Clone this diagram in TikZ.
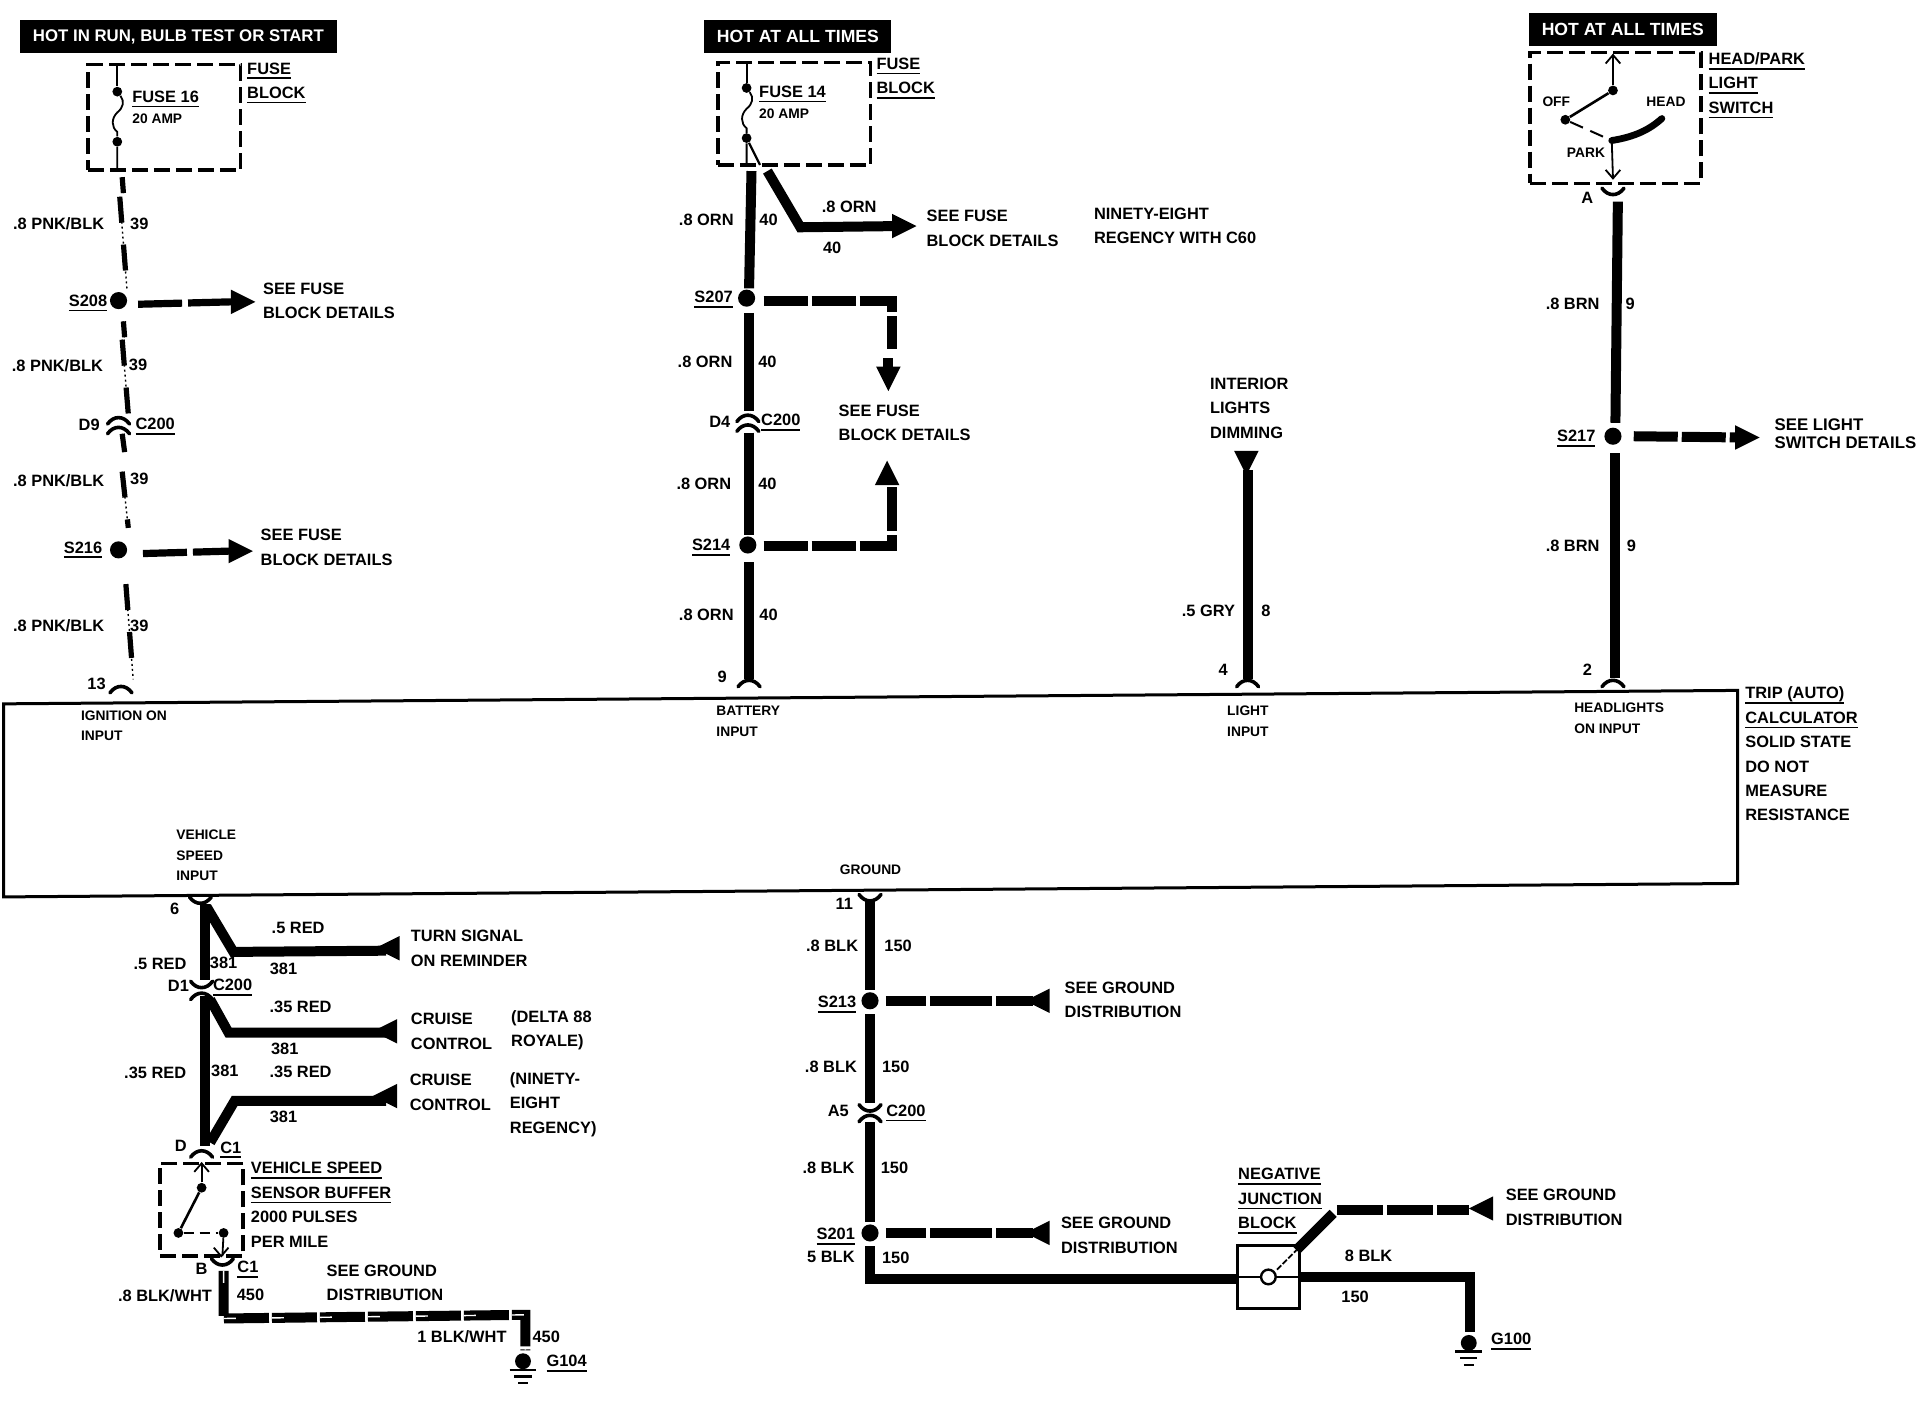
\documentclass[tikz,border=0pt]{standalone}
\usepackage{fontspec}
\setmainfont{Liberation Sans}
\usetikzlibrary{calc}
\def\un{0.61097pt}
\newcommand{\ulb}[1]{\setbox0=\hbox{#1}\leavevmode\rlap{\smash{\vrule width\wd0 height -1.7pt depth 2.5pt}}\box0}
\tikzset{
	lbl/.style={font=\fontsize{8.2}{12.2}\selectfont\bfseries,inner sep=0pt,align=left},
	txt/.style={lbl,anchor=west},
	sml/.style={font=\fontsize{6.9}{10.4}\selectfont\bfseries,inner sep=0pt,align=left,anchor=west},
	banner/.style={fill=black,text=white,font=\fontsize{#1}{10}\selectfont\bfseries,minimum height=27*\un,inner sep=0pt},
	dashbox/.style={draw,line width=1.7pt,dash pattern=on 8pt off 3pt,minimum width=#1*\un,inner sep=0pt},
	splice/.style={circle,fill=black,minimum size=14*\un,inner sep=0pt},
	pinpt/.style={circle,fill=black,minimum size=8*\un,inner sep=0pt},
	wire/.style={line width=5pt,line join=miter},
	wirelt/.style={line width=0.9pt},
	wiredash/.style={line width=5pt,dash pattern=on #1 off 2pt},
	pnkwire/.style={line width=2.6pt,dash pattern=on 13pt off 11pt,
		postaction={draw,line width=.7pt,dash pattern=on 1pt off 1.5pt}},
	blkwht/.style={line width=5pt,dash pattern=on 22.5pt off 1.5pt,
		postaction={draw,white,line width=.7pt,dash pattern=on 6pt off 18pt}},
	arrowhd/.pic={\fill[black] (0,-10) -- (20,0) -- (0,10) -- cycle;},
	capconn/.pic={\draw[line width=1.8pt,line cap=round] (-9,4) .. controls (-4,-3) and (4,-3) .. (9,4);},
	cupconn/.pic={\draw[line width=1.8pt,line cap=round] (-9,-4) .. controls (-4,3) and (4,3) .. (9,-4);},
	chevup/.pic={\draw[line width=.9pt] (-6,7) -- (0,0) -- (6,7);},
	chevdn/.pic={\draw[line width=.9pt] (-6,-7) -- (0,0) -- (6,-7);},
	gndsym/.pic={
		\fill[black] (0,0) circle (6.5);
		\draw[line width=1.2pt] (-11,7) -- (11,7);
		\draw[line width=1.2pt] (-7,12.5) -- (7,12.5);
		\draw[line width=1.2pt] (-4,18) -- (4,18);},
}
\begin{document}
\begin{tikzpicture}[x=\un,y=-\un]
	\useasboundingbox (0,0) rectangle (1568,1152.27);
	\fill[white] (0,0) rectangle (1568,1152.27);

	% Main module box
	\coordinate (tl) at (3,576);
	\coordinate (tr) at (1422,565);
	\coordinate (br) at (1422,723);
	\coordinate (bl) at (3,734);
	\draw[line width=1.5pt] (tl) -- (tr) -- (br) -- (bl) -- cycle;
	\node[sml] (ignlbl) at (66,594) {IGNITION ON\\INPUT};
	\node[sml] (batlbl) at (586,590) {BATTERY\\INPUT};
	\node[sml] (ltlbl) at (1004,590) {LIGHT\\INPUT};
	\node[sml] (hdlbl) at (1288,588) {HEADLIGHTS\\ON INPUT};
	\node[sml] (spdlbl) at (144,700) {VEHICLE\\SPEED\\INPUT};
	\node[sml] (gndlbl) at (687,712) {GROUND};
	\node[txt] (triplbl) at (1428,617) {\ulb{TRIP (AUTO)}\\\ulb{CALCULATOR}\\SOLID STATE\\DO NOT\\MEASURE\\RESISTANCE};

	% Banners
	\node[banner=8.4,minimum width=259*\un] (hotrun) at (146,30) {HOT IN RUN, BULB TEST OR START};
	\node[banner=8.8,minimum width=153*\un] (hotall) at (653,30) {HOT AT ALL TIMES};
	\node[banner=8.8,minimum width=154*\un] (hotsw) at (1328,24) {HOT AT ALL TIMES};

	% Left column: fuse 16
	\node[dashbox=125,minimum height=86*\un] (fb16) at (134.5,96) {};
	\node[pinpt] (f16a) at (96,75) {};
	\node[pinpt] (f16b) at (96,116) {};
	\coordinate (f16t) at (96,53);
	\coordinate (f16d) at (96,139);
	\draw[line width=1.1pt] (f16t) -- (f16a);
	\draw[wirelt] (f16a) .. controls (102,83) and (101,88) .. (96,92) .. controls (91,97) and (91,104) .. (96,108) -- (f16b) -- (f16d);
	\node[txt] (f16lbl) at (108,79) {\ulb{FUSE 16}};
	\node[sml] (f16amp) at (108,97) {20 AMP};
	\node[txt] (f16blk) at (202,66) {\ulb{FUSE}\\\ulb{BLOCK}};

	\coordinate (p0) at (100,145);
	\coordinate (p0b) at (101,158);
	\draw[pnkwire] (p0) -- (p0b);
	\coordinate (p1) at (98,161);
	\coordinate (p2) at (104,238);
	\draw[pnkwire] (p1) -- (p2);
	\node[splice] (s208) at (97,246) {};
	\coordinate (p3) at (101,263);
	\coordinate (p3b) at (102,276);
	\draw[pnkwire] (p3) -- (p3b);
	\coordinate (p4) at (100,278);
	\coordinate (p4b) at (105,339);
	\draw[pnkwire] (p4) -- (p4b);
	\pic at (97,343) {capconn};
	\pic at (97,351) {capconn};
	\coordinate (p5) at (100,355);
	\coordinate (p5b) at (102,370);
	\draw[pnkwire] (p5) -- (p5b);
	\coordinate (p6) at (100,386);
	\coordinate (p6b) at (105,432);
	\draw[pnkwire] (p6) -- (p6b);
	\node[splice] (s216) at (97,450) {};
	\coordinate (p7) at (103,478);
	\coordinate (p8) at (109,556);
	\draw[pnkwire] (p7) -- (p8);
	\pic at (99,563) {capconn};
	\node[lbl] (s208lbl) at (72,246) {\ulb{S208}};
	\node[lbl] (s216lbl) at (68,448) {\ulb{S216}};
	\node[lbl] (d9lbl) at (73,348) {D9};
	\node[lbl] (c9lbl) at (127,347) {\ulb{C200}};
	\node[lbl] (n13) at (79,560) {13};
	\node[lbl] (pk1) at (48,183) {.8 PNK/BLK};
	\node[lbl] (pk2) at (47,299) {.8 PNK/BLK};
	\node[lbl] (pk3) at (48,393) {.8 PNK/BLK};
	\node[lbl] (pk4) at (48,512) {.8 PNK/BLK};
	\node[lbl] (n39a) at (114,183) {39};
	\node[lbl] (n39b) at (113,299) {39};
	\node[lbl] (n39c) at (114,392) {39};
	\node[lbl] (n39d) at (114,512) {39};

	% Fuse detail arrows
	\coordinate (a1) at (113,249);
	\coordinate (a1e) at (190,247);
	\draw[line width=3.6pt,dash pattern=on 22pt off 3pt] (a1) -- (a1e);
	\pic at (189,247) {arrowhd};
	\node[txt] (see1) at (215,246) {SEE FUSE\\BLOCK DETAILS};
	\coordinate (a2) at (117,453);
	\coordinate (a2e) at (188,451);
	\draw[line width=3.6pt,dash pattern=on 22pt off 3pt] (a2) -- (a2e);
	\pic at (187,451) {arrowhd};
	\node[txt] (see2) at (213,448) {SEE FUSE\\BLOCK DETAILS};

	% Middle column: fuse 14
	\node[dashbox=125,minimum height=84*\un] (fb14) at (650,93) {};
	\node[pinpt] (f14a) at (611,72) {};
	\node[pinpt] (f14b) at (611,113) {};
	\coordinate (f14t) at (611,51);
	\coordinate (f14d) at (611,135);
	\coordinate (f14e) at (622,135);
	\draw[line width=1.1pt] (f14t) -- (f14a);
	\draw[wirelt] (f14a) .. controls (617,80) and (616,85) .. (611,89) .. controls (606,94) and (606,101) .. (611,105) -- (f14b) -- (f14d);
	\draw[line width=1.1pt] (f14b) -- (f14e);
	\node[txt] (f14lbl) at (621,75) {\ulb{FUSE 14}};
	\node[sml] (f14amp) at (621,93) {20 AMP};
	\node[txt] (f14blk) at (717,62) {\ulb{FUSE}\\\ulb{BLOCK}};

	\coordinate (m1) at (615,140);
	\coordinate (m2) at (613,236);
	\draw[wire] (m1) -- (m2);
	\coordinate (b1) at (628,140);
	\coordinate (b2) at (655,186);
	\coordinate (b3) at (735,185);
	\draw[wire] (b1) -- (b2) -- (b3);
	\pic at (730,185) {arrowhd};
	\node[splice] (s207) at (611,244) {};
	\coordinate (m3) at (613,256);
	\coordinate (m4) at (613,336);
	\draw[wire] (m3) -- (m4);
	\pic at (612,341) {capconn};
	\pic at (612,349) {capconn};
	\coordinate (m5) at (613,354);
	\coordinate (m6) at (613,438);
	\draw[wire] (m5) -- (m6);
	\node[splice] (s214) at (612,446) {};
	\coordinate (m7) at (613,460);
	\coordinate (m8) at (613,556);
	\draw[wire] (m7) -- (m8);
	\pic at (613,558) {capconn};

	% Splice branches to fuse block
	\coordinate (d1) at (625,246);
	\coordinate (d2) at (730,246);
	\coordinate (d3) at (730,286);
	\draw[wiredash=22pt] (d1) -- (d2) -- (d3);
	\coordinate (d3a) at (727,293);
	\coordinate (d3b) at (727,301);
	\draw[wire] (d3a) -- (d3b);
	\pic[rotate=-90] at (727,300) {arrowhd};
	\coordinate (e1) at (625,447);
	\coordinate (e2) at (730,447);
	\coordinate (e3) at (730,398);
	\draw[wiredash=22pt] (e1) -- (e2) -- (e3);
	\pic[rotate=90] at (726,397) {arrowhd};
	\node[txt] (see3) at (686,346) {SEE FUSE\\BLOCK DETAILS};
	\node[txt] (see4) at (758,187) {SEE FUSE\\BLOCK DETAILS};
	\node[txt] (ninety) at (895,185) {NINETY-EIGHT\\REGENCY WITH C60};

	\node[lbl] (or1) at (578,180) {.8 ORN};
	\node[lbl] (or2) at (577,296) {.8 ORN};
	\node[lbl] (or3) at (576,396) {.8 ORN};
	\node[lbl] (or4) at (578,503) {.8 ORN};
	\node[lbl] (or5) at (695,169) {.8 ORN};
	\node[lbl] (n40a) at (629,180) {40};
	\node[lbl] (n40b) at (628,296) {40};
	\node[lbl] (n40c) at (628,396) {40};
	\node[lbl] (n40d) at (629,503) {40};
	\node[lbl] (n40e) at (681,203) {40};
	\node[lbl] (s207lbl) at (584,243) {\ulb{S207}};
	\node[lbl] (s214lbl) at (582,446) {\ulb{S214}};
	\node[lbl] (d4lbl) at (589,345) {D4};
	\node[lbl] (c4lbl) at (639,344) {\ulb{C200}};
	\node[lbl] (n9) at (591,554) {9};

	% Interior lights input
	\node[txt] (intlbl) at (990,334) {INTERIOR\\LIGHTS\\DIMMING};
	\coordinate (g1) at (1021,385);
	\coordinate (g2) at (1021,556);
	\draw[wire] (g1) -- (g2);
	\pic[rotate=-90] at (1020,369) {arrowhd};
	\pic at (1021,558) {capconn};
	\node[lbl] (gry) at (989,500) {.5 GRY};
	\node[lbl] (n8) at (1036,500) {8};
	\node[lbl] (n4) at (1001,548) {4};

	% Light switch
	\node[dashbox=140,minimum height=107*\un] (swbox) at (1322,96.5) {};
	\node[pinpt] (swa) at (1320,74) {};
	\node[pinpt] (swb) at (1281,98) {};
	\coordinate (swt) at (1320,45);
	\coordinate (swd) at (1320,146);
	\coordinate (swc) at (1319,115);
	\coordinate (swh) at (1360,97);
	\draw[wirelt] (swt) -- (swa);
	\draw[line width=1.3pt] (swa) -- (swb);
	\draw[wirelt] (swc) -- (swd);
	\pic at (1320,45) {chevup};
	\pic at (1320,146) {chevdn};
	\draw[line width=1pt,dash pattern=on 7pt off 4pt] (swb) -- (swc);
	\draw[line width=3.4pt,line cap=round] (swc) .. controls (1338,112) and (1350,106) .. (swh);
	\node[sml] (offlbl) at (1262,83) {OFF};
	\node[sml] (headlbl) at (1347,83) {HEAD};
	\node[sml] (parklbl) at (1282,125) {PARK};
	\node[txt] (swlbl) at (1398,68) {\ulb{HEAD/PARK}\\\ulb{LIGHT}\\\ulb{SWITCH}};
	\node[lbl] (alt) at (1299,162) {A};
	\pic at (1320,158) {cupconn};
	\coordinate (h1) at (1324,165);
	\coordinate (h2) at (1322,346);
	\draw[wire] (h1) -- (h2);
	\node[splice] (s217) at (1320,357) {};
	\coordinate (h3) at (1322,371);
	\coordinate (h4) at (1322,555);
	\draw[wire] (h3) -- (h4);
	\pic at (1320,558) {capconn};
	\coordinate (h5) at (1337,357);
	\coordinate (h6) at (1424,358);
	\draw[wiredash=22pt] (h5) -- (h6);
	\pic at (1420,358) {arrowhd};
	\node[txt,font=\fontsize{8.4}{9.3}\selectfont\bfseries] (see5) at (1452,355) {SEE LIGHT\\SWITCH DETAILS};
	\node[lbl] (s217lbl) at (1290,357) {\ulb{S217}};
	\node[lbl] (br1) at (1287,249) {.8 BRN};
	\node[lbl] (br2) at (1287,447) {.8 BRN};
	\node[lbl] (n9a) at (1334,249) {9};
	\node[lbl] (n9b) at (1335,447) {9};
	\node[lbl] (n2) at (1299,548) {2};

	% Speed input branches
	\pic at (164,738) {cupconn};
	\coordinate (v1) at (168,740);
	\coordinate (v2) at (168,802);
	\draw[wire] (v1) -- (v2);
	\coordinate (v1b) at (169,742);
	\coordinate (v1c) at (191,779);
	\coordinate (v1d) at (316,778);
	\draw[wire] (v1b) -- (v1c) -- (v1d);
	\pic[rotate=180] at (327,776) {arrowhd};
	\pic at (165,807) {cupconn};
	\pic at (165,814) {capconn};
	\coordinate (v3) at (168,815);
	\coordinate (v4) at (168,938);
	\draw[wire] (v3) -- (v4);
	\coordinate (v3b) at (172,818);
	\coordinate (v3c) at (187,845);
	\coordinate (v3d) at (316,845);
	\draw[wire] (v3b) -- (v3c) -- (v3d);
	\pic[rotate=180] at (325,844) {arrowhd};
	\coordinate (v4b) at (172,935);
	\coordinate (v4c) at (192,901);
	\coordinate (v4d) at (316,901);
	\draw[wire] (v4b) -- (v4c) -- (v4d);
	\pic[rotate=180] at (325,897) {arrowhd};
	\pic at (165,943) {capconn};
	\node[lbl] (n6) at (143,744) {6};
	\node[lbl] (rd1) at (131,789) {.5 RED};
	\node[lbl] (rd2) at (244,759) {.5 RED};
	\node[lbl] (rd3) at (246,824) {.35 RED};
	\node[lbl] (rd4) at (127,878) {.35 RED};
	\node[lbl] (rd5) at (246,877) {.35 RED};
	\node[lbl] (w1) at (183,788) {381};
	\node[lbl] (w2) at (232,793) {381};
	\node[lbl] (w3) at (233,858) {381};
	\node[lbl] (w4) at (184,876) {381};
	\node[lbl] (w5) at (232,914) {381};
	\node[lbl] (d1lbl) at (146,807) {D1};
	\node[txt] (c1lbl) at (174,806) {\ulb{C200}};
	\node[txt] (turn) at (336,776) {TURN SIGNAL\\ON REMINDER};
	\node[txt] (crs1) at (336,844) {CRUISE\\CONTROL};
	\node[txt] (dlt) at (418,843) {(DELTA 88\\ROYALE)};
	\node[txt] (crs2) at (335,894) {CRUISE\\CONTROL};
	\node[txt] (nty) at (417,904) {(NINETY-\\EIGHT\\REGENCY)};

	% Speed sensor
	\node[dashbox=68,minimum height=76*\un] (vsbox) at (165,990) {};
	\node[pinpt] (vsa) at (165,972) {};
	\node[pinpt] (vsb) at (146,1009) {};
	\node[pinpt] (vsc) at (183,1009) {};
	\coordinate (vst) at (165,952);
	\coordinate (vsd) at (182,1028);
	\draw[wirelt] (vst) -- (vsa);
	\draw[line width=1.3pt] (vsa) -- (vsb);
	\draw[line width=1pt,dash pattern=on 5pt off 3pt] (vsb) -- (vsc);
	\draw[wirelt] (vsc) -- (vsd);
	\pic at (165,952) {chevup};
	\pic at (181,1028) {chevdn};
	\node[txt] (vslbl) at (205,986) {\ulb{VEHICLE SPEED}\\\ulb{SENSOR BUFFER}\\2000 PULSES\\PER MILE};
	\node[lbl] (dlt2) at (148,938) {D};
	\node[txt] (c1a) at (180,939) {\ulb{C1}};
	\node[lbl] (blt) at (165,1038) {B};
	\node[txt] (c1b) at (194,1037) {\ulb{C1}};

	% Sensor ground
	\pic at (182,1034) {cupconn};
	\coordinate (k1) at (183,1040);
	\coordinate (k2) at (183,1079);
	\coordinate (k3) at (430,1076);
	\coordinate (k4) at (430,1105);
	\draw[blkwht] (k1) -- (k2) -- (k3) -- (k4);
	\pic at (428,1114) {gndsym};
	\node[lbl] (bw1) at (135,1060) {.8 BLK/WHT};
	\node[lbl] (n450a) at (205,1060) {450};
	\node[lbl] (bw2) at (378,1094) {1 BLK/WHT};
	\node[lbl] (n450b) at (447,1094) {450};
	\node[txt] (see6) at (267,1050) {SEE GROUND\\DISTRIBUTION};
	\node[txt] (g104) at (447,1114) {\ulb{G104}};

	% Ground column
	\pic at (712,736) {cupconn};
	\coordinate (q1) at (712,736);
	\node[splice] (s213) at (712,819) {};
	\coordinate (q2) at (712,810);
	\draw[wire] (q1) -- (q2);
	\coordinate (q3) at (712,830);
	\coordinate (q4) at (712,903);
	\draw[wire] (q3) -- (q4);
	\pic at (712,908) {cupconn};
	\pic at (712,914) {capconn};
	\coordinate (q5) at (712,918);
	\coordinate (q6) at (712,1000);
	\draw[wire] (q5) -- (q6);
	\node[splice] (s201) at (712,1009) {};
	\coordinate (q7) at (712,1020);
	\coordinate (q8) at (712,1047);
	\coordinate (q9) at (1013,1047);
	\draw[wire] (q7) -- (q8) -- (q9);
	\coordinate (r1) at (725,819);
	\coordinate (r2) at (845,819);
	\draw[wiredash=31pt,dash phase=11pt] (r1) -- (r2);
	\pic[rotate=180] at (859,819) {arrowhd};
	\coordinate (r3) at (725,1009);
	\coordinate (r4) at (845,1009);
	\draw[wiredash=31pt,dash phase=11pt] (r3) -- (r4);
	\pic[rotate=180] at (859,1009) {arrowhd};
	\node[txt] (see7) at (871,818) {SEE GROUND\\DISTRIBUTION};
	\node[txt] (see8) at (868,1011) {SEE GROUND\\DISTRIBUTION};
	\node[lbl] (n11) at (691,740) {11};
	\node[lbl] (bk1) at (681,774) {.8 BLK};
	\node[lbl] (bk2) at (680,873) {.8 BLK};
	\node[lbl] (bk3) at (678,956) {.8 BLK};
	\node[lbl] (bk4) at (680,1029) {5 BLK};
	\node[lbl] (bk5) at (1120,1028) {8 BLK};
	\node[lbl] (n150a) at (735,774) {150};
	\node[lbl] (n150b) at (733,873) {150};
	\node[lbl] (n150c) at (732,956) {150};
	\node[lbl] (n150d) at (733,1029) {150};
	\node[lbl] (n150e) at (1109,1061) {150};
	\node[lbl] (s213lbl) at (685,820) {\ulb{S213}};
	\node[lbl] (s201lbl) at (684,1010) {\ulb{S201}};
	\node[lbl] (a5lbl) at (686,909) {A5};
	\node[txt] (c5lbl) at (725,909) {\ulb{C200}};

	% Negative junction block
	\node[draw,line width=1.6pt,minimum size=51*\un,inner sep=0pt] (njb) at (1038,1045) {};
	\node[draw,circle,fill=white,line width=1.2pt,minimum size=12*\un,inner sep=0pt] (njc) at (1038,1045) {};
	\draw[wirelt] (njb.west) -- (njc) -- (njb.east);
	\coordinate (t1) at (1045,1039);
	\coordinate (t2) at (1061,1023);
	\draw[wirelt,dash pattern=on 3pt off 1pt] (t1) -- (t2);
	\coordinate (t3) at (1091,993);
	\draw[wire] (t2) -- (t3);
	\coordinate (t4) at (1094,990);
	\coordinate (t5) at (1202,990);
	\draw[wiredash=23pt] (t4) -- (t5);
	\pic[rotate=180] at (1222,989) {arrowhd};
	\node[txt] (see9) at (1232,988) {SEE GROUND\\DISTRIBUTION};
	\node[txt] (njlbl) at (1013,981) {\ulb{NEGATIVE}\\\ulb{JUNCTION}\\\ulb{BLOCK}};
	\coordinate (u1) at (1064,1045);
	\coordinate (u2) at (1203,1045);
	\coordinate (u3) at (1203,1090);
	\draw[wire] (u1) -- (u2) -- (u3);
	\pic at (1202,1099) {gndsym};
	\node[txt] (g100) at (1220,1096) {\ulb{G100}};
\end{tikzpicture}
\end{document}
